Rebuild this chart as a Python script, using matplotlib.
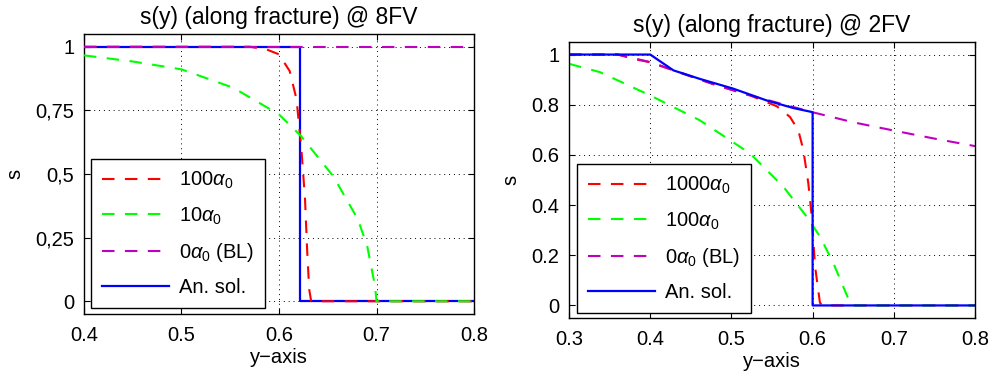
import matplotlib
matplotlib.use('Agg')
import matplotlib.pyplot as plt

plt.rcParams['font.family'] = ['Liberation Sans', 'DejaVu Sans']
plt.rcParams['mathtext.fontset'] = 'custom'
plt.rcParams['mathtext.rm'] = 'Liberation Sans'
plt.rcParams['mathtext.it'] = 'Liberation Sans:italic'
plt.rcParams['font.size'] = 14.5

# s(y) along the fracture at 8FV
y_an8 = [0.4, 0.622, 0.622, 0.8]
s_an8 = [1, 1, 0, 0]
y_bl8 = [0.4, 0.8]
s_bl8 = [1, 1]
y_r8 = [0.40, 0.57, 0.5875, 0.60, 0.611, 0.618, 0.623, 0.6267, 0.629, 0.631, 0.633, 0.8]
s_r8 = [1, 1, 0.989, 0.970, 0.904, 0.793, 0.596, 0.40, 0.19, 0.046, 0, 0]
y_g8 = [0.40, 0.45, 0.50, 0.553, 0.60, 0.6226, 0.6557, 0.681, 0.6905, 0.6985, 0.70, 0.8]
s_g8 = [0.966, 0.942, 0.911, 0.839, 0.734, 0.649, 0.491, 0.321, 0.216, 0.059, 0, 0]

# s(y) along the fracture at 2FV
y_an2 = [0.3, 0.4, 0.4285, 0.461, 0.5023, 0.5434, 0.576, 0.599, 0.6, 0.6, 0.8]
s_an2 = [1, 1, 0.937, 0.903, 0.864, 0.817, 0.787, 0.771, 0.77, 0, 0]
y_bl2 = [0.3, 0.36, 0.38, 0.4, 0.44, 0.48, 0.52, 0.56, 0.6, 0.65, 0.7076, 0.75, 0.8]
s_bl2 = [1, 1, 0.985, 0.97, 0.925, 0.88, 0.84, 0.805, 0.77, 0.73, 0.692, 0.665, 0.635]
y_r2 = [0.3, 0.36, 0.379, 0.4, 0.4407, 0.4819, 0.5229, 0.5558, 0.5722, 0.5824,
        0.5886, 0.5947, 0.5989, 0.603, 0.609, 0.612, 0.8]
s_r2 = [1, 1, 0.983, 0.969, 0.923, 0.877, 0.837, 0.794, 0.751, 0.698,
        0.619, 0.487, 0.354, 0.156, 0.011, 0, 0]
y_g2 = [0.3, 0.338, 0.4, 0.461, 0.5229, 0.564, 0.5927, 0.609, 0.6255, 0.646, 0.648, 0.8]
s_g2 = [0.963, 0.930, 0.837, 0.738, 0.606, 0.473, 0.354, 0.275, 0.169, 0.011, 0, 0]

yticks8 = [0, 0.25, 0.5, 0.75, 1]
ytick_labels8 = ['0', '0,25', '0,5', '0,75', '1']
xticks8 = [0.4, 0.5, 0.6, 0.7, 0.8]
yticks2 = [0, 0.2, 0.4, 0.6, 0.8, 1]
xticks2 = [0.3, 0.4, 0.5, 0.6, 0.7, 0.8]

dash = (6, 5)
magenta = (0.75, 0, 0.75)

fig = plt.figure(figsize=(9.95, 3.76), dpi=100)
ax1 = fig.add_axes([0.0844, 0.1649, 0.392, 0.7447])
ax2 = fig.add_axes([0.5719, 0.1543, 0.408, 0.734])


def style(ax, title):
    ax.set_title(title, fontsize=16.5, pad=7)
    ax.set_xlabel('y\u2212axis', labelpad=2)
    ax.set_ylabel('s', labelpad=8)
    ax.set_ylim(-0.05, 1.05)
    ax.grid(True, color='k', linestyle=(0, (1, 4)), linewidth=0.7)
    ax.tick_params(direction='in', top=True, right=True, length=4, width=0.8, pad=9)
    ax.tick_params(axis='y', pad=7)
    for sp in ax.spines.values():
        sp.set_linewidth(1.0)


def add_legend(ax, handles, labels, anchor):
    leg = ax.legend(handles, labels, loc='lower left', bbox_to_anchor=anchor,
                    borderaxespad=0, fancybox=False, edgecolor='k', framealpha=1,
                    handlelength=3.3, labelspacing=0.7, borderpad=0.55,
                    handletextpad=0.5)
    leg.get_frame().set_linewidth(1.0)


ax1.plot(y_an8, s_an8, color='b', lw=1.6, label='An. sol.', zorder=2)
ax1.plot(y_r8, s_r8, color='r', lw=1.5, dashes=dash, label=r'$100\alpha_0$', zorder=3)
ax1.plot(y_g8, s_g8, color=(0, 1, 0), lw=1.5, dashes=dash, label=r'$10\alpha_0$', zorder=3)
ax1.plot(y_bl8, s_bl8, color=magenta, lw=1.5, dashes=dash, label=r'$0\alpha_0$ (BL)', zorder=3)
ax1.set_xlim(0.4, 0.8)
ax1.set_xticks(xticks8)
ax1.set_yticks(yticks8)
ax1.set_yticklabels(ytick_labels8)
style(ax1, 's(y) (along fracture) @ 8FV')
h, l = ax1.get_legend_handles_labels()
order = [1, 2, 3, 0]
add_legend(ax1, [h[i] for i in order], [l[i] for i in order], (0.018, 0.021))

ax2.plot(y_r2, s_r2, color='r', lw=1.5, dashes=dash, label=r'$1000\alpha_0$')
ax2.plot(y_g2, s_g2, color=(0, 1, 0), lw=1.5, dashes=dash, label=r'$100\alpha_0$')
ax2.plot(y_bl2, s_bl2, color=magenta, lw=1.5, dashes=dash, label=r'$0\alpha_0$ (BL)')
ax2.plot(y_an2, s_an2, color='b', lw=1.6, label='An. sol.')
ax2.set_xlim(0.3, 0.8)
ax2.set_xticks(xticks2)
ax2.set_yticks(yticks2)
ax2.set_yticklabels(['0', '0.2', '0.4', '0.6', '0.8', '1'])
style(ax2, 's(y) (along fracture) @ 2FV')
h, l = ax2.get_legend_handles_labels()
add_legend(ax2, h, l, (0.0197, 0.018))

fig.savefig('out.png', dpi=100)
